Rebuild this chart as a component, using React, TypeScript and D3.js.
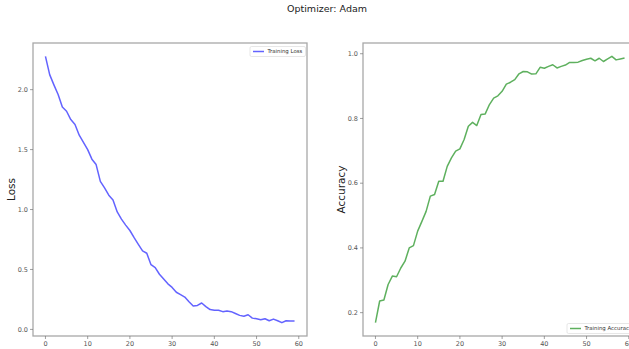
import React, { useEffect, useRef } from 'react';
import * as d3 from 'd3';

const title = "Optimizer: Adam";

const epochs = d3.range(0, 60);

const trainingLoss = [
  2.278, 2.125, 2.04, 1.96, 1.855, 1.82, 1.75, 1.71, 1.62, 1.56,
  1.5, 1.42, 1.375, 1.235, 1.18, 1.12, 1.08, 0.98, 0.92, 0.87,
  0.825, 0.765, 0.71, 0.655, 0.635, 0.54, 0.515, 0.46, 0.42, 0.38,
  0.35, 0.31, 0.29, 0.27, 0.23, 0.195, 0.2, 0.22, 0.19, 0.165,
  0.16, 0.16, 0.148, 0.153, 0.148, 0.133, 0.117, 0.11, 0.122, 0.094,
  0.089, 0.08, 0.089, 0.072, 0.086, 0.072, 0.056, 0.072, 0.07, 0.07,
];

const trainingAccuracy = [
  0.169, 0.236, 0.239, 0.287, 0.313, 0.311, 0.338, 0.359, 0.4, 0.407,
  0.452, 0.482, 0.513, 0.56, 0.565, 0.606, 0.606, 0.652, 0.678, 0.699,
  0.706, 0.735, 0.776, 0.788, 0.778, 0.812, 0.814, 0.843, 0.863, 0.87,
  0.884, 0.906, 0.912, 0.92, 0.938, 0.945, 0.944, 0.937, 0.938, 0.958,
  0.955, 0.961, 0.966, 0.956, 0.961, 0.965, 0.973, 0.973, 0.974, 0.979,
  0.983, 0.986, 0.978, 0.986, 0.976, 0.984, 0.992, 0.981, 0.984, 0.987,
];

const xTicks = [0, 10, 20, 30, 40, 50, 60];
const lossTicks = [0.0, 0.5, 1.0, 1.5, 2.0];
const accTicks = [0.2, 0.4, 0.6, 0.8, 1.0];

const FONT = "DejaVu Sans, sans-serif";

// matplotlib-like 5% padding
function padded(values) {
  const [lo, hi] = d3.extent(values);
  const m = (hi - lo) * 0.05;
  return [lo - m, hi + m];
}

function drawPanel(svg, opts) {
  const { left, right, top, bottom, values, yTicks, color, ylabel, legend, legendPos } = opts;

  const x = d3.scaleLinear().domain(padded(epochs)).range([left, right]);
  const y = d3.scaleLinear().domain(padded(values)).range([bottom, top]);

  const g = svg.append("g");

  g.append("rect")
    .attr("x", left)
    .attr("y", top)
    .attr("width", right - left)
    .attr("height", bottom - top)
    .attr("fill", "white");

  const line = d3.line()
    .x((d, i) => x(epochs[i]))
    .y((d) => y(d));

  g.append("path")
    .datum(values)
    .attr("d", line)
    .attr("fill", "none")
    .attr("stroke", color)
    .attr("stroke-width", 1.5)
    .attr("stroke-linejoin", "round");

  // frame
  g.append("rect")
    .attr("x", left)
    .attr("y", top)
    .attr("width", right - left)
    .attr("height", bottom - top)
    .attr("fill", "none")
    .attr("stroke", "#a8a8a8")
    .attr("stroke-width", 1.3);

  // x axis ticks
  const xg = g.append("g");
  xTicks.forEach((t) => {
    xg.append("line")
      .attr("x1", x(t)).attr("x2", x(t))
      .attr("y1", bottom).attr("y2", bottom + 3)
      .attr("stroke", "#777").attr("stroke-width", 0.7);
    xg.append("text")
      .attr("x", x(t))
      .attr("y", bottom + 10)
      .attr("text-anchor", "middle")
      .attr("font-size", 6.5)
      .attr("fill", "#555")
      .attr("font-family", FONT)
      .text(t);
  });

  // y axis ticks
  const yg = g.append("g");
  yTicks.forEach((t) => {
    yg.append("line")
      .attr("x1", left - 3).attr("x2", left)
      .attr("y1", y(t)).attr("y2", y(t))
      .attr("stroke", "#777").attr("stroke-width", 0.7);
    yg.append("text")
      .attr("x", left - 5)
      .attr("y", y(t))
      .attr("dy", "0.35em")
      .attr("text-anchor", "end")
      .attr("font-size", 6.5)
      .attr("fill", "#555")
      .attr("font-family", FONT)
      .text(t.toFixed(1));
  });

  // y label
  g.append("text")
    .attr("transform", `translate(${left - 18},${(top + bottom) / 2}) rotate(-90)`)
    .attr("text-anchor", "middle")
    .attr("font-size", 10.5)
    .attr("fill", "#222")
    .attr("font-family", FONT)
    .text(ylabel);

  // legend
  const lg = g.append("g").attr("transform", `translate(${legendPos[0]},${legendPos[1]})`);
  lg.append("rect")
    .attr("x", 0).attr("y", 0)
    .attr("width", legendPos[2]).attr("height", 10)
    .attr("rx", 1.5)
    .attr("fill", "white")
    .attr("stroke", "#dcdcdc")
    .attr("stroke-width", 0.7);
  lg.append("line")
    .attr("x1", 3).attr("x2", 14)
    .attr("y1", 5).attr("y2", 5)
    .attr("stroke", color)
    .attr("stroke-width", 1.5);
  lg.append("text")
    .attr("x", 17.5)
    .attr("y", 5)
    .attr("dy", "0.35em")
    .attr("font-size", 5.4)
    .attr("fill", "#333")
    .attr("font-family", FONT)
    .text(legend);
}

export default function App() {
  const ref = useRef(null);

  useEffect(() => {
    const svg = d3.select(ref.current);
    svg.selectAll("*").remove();

    svg.append("rect")
      .attr("width", 629).attr("height", 349)
      .attr("fill", "white");

    svg.append("text")
      .attr("x", 327)
      .attr("y", 12)
      .attr("text-anchor", "middle")
      .attr("font-size", 9.5)
      .attr("fill", "#222")
      .attr("font-family", FONT)
      .text(title);

    drawPanel(svg, {
      left: 33, right: 307, top: 43, bottom: 336,
      values: trainingLoss, yTicks: lossTicks,
      color: "rgba(60,60,255,0.8)",
      ylabel: "Loss",
      legend: "Training Loss",
      legendPos: [250, 46.5, 55.5],
    });

    drawPanel(svg, {
      left: 363, right: 637, top: 43, bottom: 336,
      values: trainingAccuracy, yTicks: accTicks,
      color: "rgba(40,150,40,0.75)",
      ylabel: "Accuracy",
      legend: "Training Accuracy",
      legendPos: [567, 323.5, 68],
    });
  }, []);

  return (
    <svg
      ref={ref}
      width={629}
      height={349}
      style={{ position: "absolute", left: 0, top: 0, display: "block" }}
    />
  );
}
